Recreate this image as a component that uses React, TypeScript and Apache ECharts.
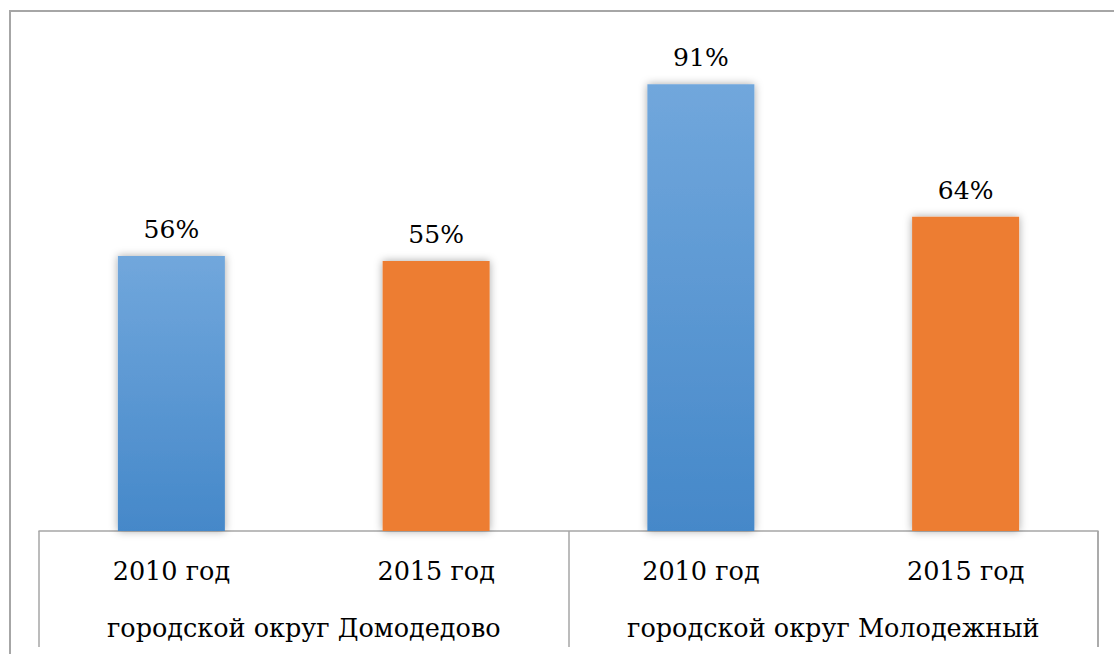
import React, { useEffect, useRef } from "react";
import * as echarts from "echarts";

const yearLabels = ["2010 год", "2015 год", "2010 год", "2015 год"];
const groupLabels = ["городской округ Домодедово", "городской округ Молодежный"];
const shareValues = [56, 55, 91, 64];
const yearColors = ["blue", "orange", "blue", "orange"];

export default function App() {
  const ref = useRef<HTMLDivElement>(null);
  useEffect(() => {
    const chart = echarts.init(ref.current!, null, { renderer: "svg" });
    const blue = new echarts.graphic.LinearGradient(0, 0, 0, 1, [
      { offset: 0, color: "#71A7DC" },
      { offset: 1, color: "#4588C9" },
    ]);
    const font = "DejaVu Serif";
    chart.setOption({
      animation: false,
      backgroundColor: "#ffffff",
      textStyle: { fontFamily: font },
      graphic: [
        {
          type: "rect",
          shape: { x: 10, y: 11, width: 1300, height: 1000 },
          style: { fill: "none", stroke: "#A6A6A6", lineWidth: 2 },
          silent: true,
        },
        {
          type: "line",
          shape: { x1: 1098, y1: 531, x2: 1098, y2: 647 },
          style: { stroke: "#A6A6A6", lineWidth: 1.5 },
          silent: true,
        },
      ],
      grid: { left: 39, right: 16, top: 40, bottom: 123 },
      xAxis: [
        {
          type: "category",
          data: yearLabels,
          axisLine: { show: true, lineStyle: { color: "#A6A6A6", width: 1.5 } },
          axisTick: { show: false },
          axisLabel: {
            interval: 0,
            hideOverlap: false,
            margin: 27,
            fontSize: 25.5,
            color: "#000",
            fontFamily: font,
          },
        },
        {
          type: "category",
          data: groupLabels,
          position: "bottom",
          axisLine: { show: false },
          axisTick: {
            show: true,
            interval: 0,
            length: 116,
            lineStyle: { color: "#A6A6A6", width: 1.5 },
          },
          axisLabel: {
            interval: 0,
            hideOverlap: false,
            margin: 84,
            fontSize: 25.5,
            color: "#000",
            fontFamily: font,
          },
        },
      ],
      yAxis: { type: "value", min: 0, max: 100, show: false, splitLine: { show: false } },
      series: [
        {
          type: "bar",
          xAxisIndex: 0,
          barWidth: 107,
          data: shareValues.map((v, i) => ({
            value: v,
            itemStyle: {
              color: yearColors[i] === "blue" ? blue : "#ED7D31",
              shadowBlur: 8,
              shadowColor: "rgba(0,0,0,0.35)",
            },
          })),
          label: {
            show: true,
            position: "top",
            distance: 14,
            formatter: "{c}%",
            fontSize: 25,
            color: "#000",
            fontFamily: font,
          },
        },
      ],
    });
    return () => chart.dispose();
  }, []);
  return (
    <div
      ref={ref}
      style={{ position: "fixed", left: 0, top: 0, width: 1114, height: 654 }}
    />
  );
}
